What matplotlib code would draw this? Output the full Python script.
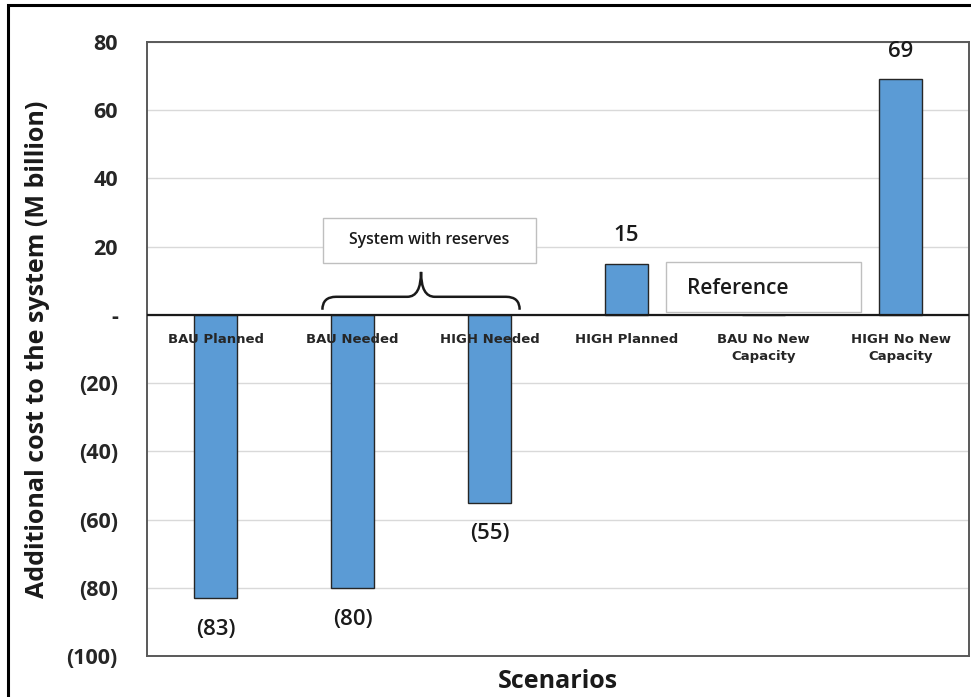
import matplotlib
matplotlib.use("Agg")
import matplotlib.pyplot as plt
from matplotlib.patches import Rectangle, PathPatch
from matplotlib.path import Path
import numpy as np

# Scenario results
scenarios = ["BAU Planned", "BAU Needed", "HIGH Needed", "HIGH Planned",
             "BAU No New\nCapacity", "HIGH No New\nCapacity"]
cost = [-83, -80, -55, 15, 0, 69]
value_labels = ["(83)", "(80)", "(55)", "15", "", "69"]
y_ticks = [80, 60, 40, 20, 0, -20, -40, -60, -80, -100]
y_tick_labels = ["80", "60", "40", "20", "-", "(20)", "(40)", "(60)", "(80)", "(100)"]

BAR_COLOR = "#5B9BD5"
FONT = "Open Sans"
INK = "#1a1a1a"

fig = plt.figure(figsize=(9.71, 6.97), dpi=100)
fig.patch.set_facecolor("white")

# outer frame around the figure
fig.patches.append(Rectangle((0.008, -0.02), 1.05, 1.013, transform=fig.transFigure,
                             fill=False, edgecolor="black", lw=2.2, zorder=10))

ax = fig.add_axes([0.1514, 0.0588, 0.8466, 0.881])
x = np.arange(len(scenarios))
ax.bar(x, cost, width=0.32, color=BAR_COLOR, edgecolor="#262626", linewidth=1.0, zorder=3)

ax.set_xlim(-0.5, len(scenarios) - 0.5)
ax.set_ylim(-100, 80)
ax.set_yticks(y_ticks)
ax.set_yticklabels(y_tick_labels, fontfamily=FONT, fontweight="bold", fontsize=15.5,
                   color="#262626")
ax.tick_params(axis="y", length=0, pad=21)
ax.set_xticks([])
ax.grid(axis="y", color="#D9D9D9", linewidth=1.0, zorder=0)
ax.set_axisbelow(True)
ax.axhline(0, color=INK, linewidth=1.6, zorder=4)
for side in ax.spines.values():
    side.set_color("#595959")
    side.set_linewidth(1.4)

ax.set_ylabel("Additional cost to the system (M billion)", fontfamily=FONT,
              fontweight="bold", fontsize=18, color=INK, labelpad=12)
ax.set_xlabel("Scenarios", fontfamily=FONT, fontweight="bold", fontsize=18,
              color=INK, labelpad=9)

# category names sit just under the zero line
for xi, name in zip(x, scenarios):
    ax.annotate(name, (xi, 0), xytext=(0, -13), textcoords="offset points",
                ha="center", va="top", fontsize=9.5, fontweight="bold",
                fontfamily="DejaVu Sans", color="#262626", linespacing=1.45,
                zorder=5)

# value labels above or below each bar
for xi, v, lab in zip(x, cost, value_labels):
    if not lab:
        continue
    off = 20 if v > 0 else -22.5
    ax.annotate(lab, (xi, v), xytext=(0, off), textcoords="offset points",
                ha="center", va="center", fontsize=16,
                fontfamily=FONT, fontweight="semibold", color=INK)

# "System with reserves" callout with a brace over the two "Needed" scenarios
ax.add_patch(Rectangle((0.785, 15.2), 1.555, 13.2, facecolor="white",
                       edgecolor="#BFBFBF", linewidth=1.0, zorder=5))
ax.text(0.785 + 1.555 / 2, 15.2 + 6.8, "System with reserves", ha="center", va="center",
        fontsize=11.3, fontfamily=FONT, fontweight="semibold", color=INK, zorder=6)

mid = (x[1] + x[2]) / 2
half = 0.72
y0, y1, ytip = 1.5, 5.3, 12.6
dx = 0.10
verts = [
    (mid - half, y0), (mid - half, y1), (mid - half + dx, y1),
    (mid - dx, y1), (mid, y1), (mid, ytip),
    (mid, y1), (mid + dx, y1),
    (mid + half - dx, y1), (mid + half, y1), (mid + half, y0),
]
codes = [Path.MOVETO, Path.CURVE3, Path.CURVE3,
         Path.LINETO, Path.CURVE3, Path.CURVE3,
         Path.CURVE3, Path.CURVE3,
         Path.LINETO, Path.CURVE3, Path.CURVE3]
ax.add_patch(PathPatch(Path(verts, codes), facecolor="none", edgecolor=INK,
                       linewidth=1.8, joinstyle="miter", capstyle="butt", zorder=6))

# "Reference" callout next to the HIGH Planned bar
ax.add_patch(Rectangle((3.29, 0.9), 1.42, 14.6, facecolor="white",
                       edgecolor="#BFBFBF", linewidth=1.0, zorder=5))
ax.text(3.44, 7.6, "Reference", ha="left", va="center", fontsize=15,
        fontfamily=FONT, fontweight="semibold", color=INK, zorder=6)

fig.savefig("out.png", dpi=100)
